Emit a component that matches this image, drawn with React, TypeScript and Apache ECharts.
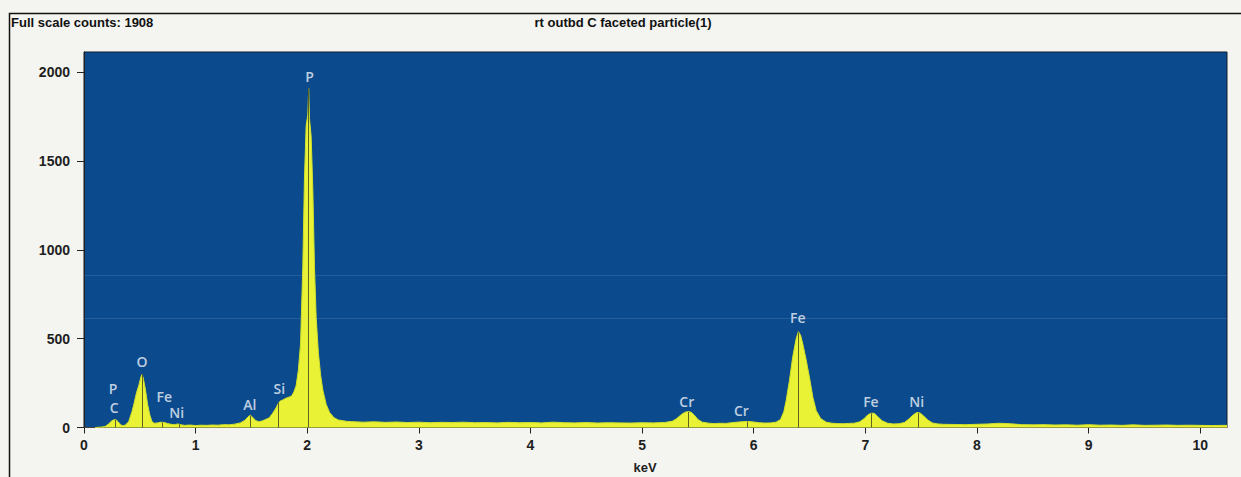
import { useEffect, useRef } from "react";
import * as echarts from "echarts";

// Spectrum: energy (keV) and counts
const energy = [
  0.10, 0.15, 0.19, 0.22, 0.25, 0.27, 0.29, 0.31, 0.33, 0.35, 0.37, 0.40, 0.43, 0.45, 0.47, 0.49, 0.51, 0.52, 0.53, 0.55,
  0.57, 0.59, 0.61, 0.63, 0.66, 0.69, 0.72, 0.75, 0.78, 0.81, 0.84, 0.87, 0.90, 0.95, 1.00, 1.05, 1.10, 1.15, 1.20, 1.25,
  1.30, 1.35, 1.40, 1.44, 1.47, 1.49, 1.51, 1.54, 1.57, 1.60, 1.63, 1.66, 1.69, 1.72, 1.74, 1.76, 1.78, 1.80, 1.82, 1.84,
  1.86, 1.88, 1.90, 1.92, 1.94, 1.96, 1.975, 1.99, 2.005, 2.013, 2.02, 2.035, 2.05, 2.065, 2.08, 2.10, 2.12, 2.14, 2.17, 2.20,
  2.24, 2.28, 2.32, 2.36, 2.40, 2.50, 2.60, 2.70, 2.80, 2.90, 3.00, 3.10, 3.20, 3.30, 3.40, 3.50, 3.60, 3.70, 3.80, 3.90,
  4.00, 4.10, 4.20, 4.30, 4.40, 4.50, 4.60, 4.70, 4.80, 4.90, 5.00, 5.10, 5.20, 5.27, 5.31, 5.35, 5.38, 5.41, 5.44, 5.47,
  5.50, 5.54, 5.60, 5.65, 5.70, 5.75, 5.80, 5.85, 5.90, 5.95, 6.00, 6.05, 6.10, 6.15, 6.20, 6.24, 6.27, 6.29, 6.32, 6.35,
  6.38, 6.40, 6.42, 6.44, 6.47, 6.50, 6.53, 6.56, 6.60, 6.65, 6.70, 6.75, 6.80, 6.85, 6.90, 6.95, 6.99, 7.02, 7.05, 7.08,
  7.11, 7.15, 7.20, 7.25, 7.30, 7.35, 7.39, 7.43, 7.46, 7.49, 7.52, 7.56, 7.60, 7.65, 7.70, 7.80, 7.90, 8.00, 8.10, 8.20,
  8.30, 8.40, 8.50, 8.60, 8.70, 8.80, 8.90, 9.00, 9.10, 9.20, 9.30, 9.40, 9.50, 9.60, 9.70, 9.80, 9.90, 10.00, 10.10, 10.20,
  10.24,
];
const counts = [
  0, 2, 6, 20, 38, 44, 42, 30, 14, 10, 14, 32, 90, 140, 195, 235, 285, 298, 280, 215,
  130, 70, 32, 24, 26, 30, 28, 22, 18, 16, 20, 15, 12, 14, 11, 13, 12, 14, 13, 16,
  15, 19, 26, 40, 60, 70, 58, 38, 33, 38, 46, 55, 80, 110, 135, 150, 155, 162, 168, 172,
  178, 200, 235, 320, 470, 900, 1400, 1700, 1760, 1908, 1740, 1640, 1340, 900, 620, 420, 295, 210, 130, 85,
  55, 42, 38, 34, 33, 30, 32, 29, 31, 28, 30, 27, 29, 28, 30, 27, 28, 26, 29, 27,
  28, 26, 30, 27, 26, 28, 25, 27, 26, 25, 27, 26, 28, 35, 50, 72, 85, 90, 86, 68,
  45, 30, 24, 22, 24, 23, 27, 30, 33, 34, 31, 27, 25, 26, 30, 45, 90, 150, 265, 400,
  500, 540, 520, 470, 380, 280, 170, 95, 50, 30, 24, 22, 21, 23, 24, 32, 50, 70, 80, 80,
  62, 38, 24, 20, 21, 28, 48, 72, 84, 82, 66, 42, 26, 20, 18, 17, 16, 18, 20, 24,
  21, 16, 15, 16, 14, 15, 13, 16, 13, 14, 12, 15, 12, 13, 14, 12, 13, 12, 11, 12,
  12,
];

// Identified peak markers (element line energy, marker top in counts)
const peakEnergy = [0.277, 0.525, 0.705, 0.851, 1.487, 1.74, 2.013, 5.414, 5.946, 6.403, 7.057, 7.477];
const peakHeight = [42, 300, 28, 18, 68, 140, 1908, 88, 33, 535, 80, 82];

// Element labels (name, energy, count level of label)
const labelNames = ["P", "C", "O", "Fe", "Ni", "Al", "Si", "P", "Cr", "Cr", "Fe", "Fe", "Ni"];
const labelEnergy = [0.26, 0.27, 0.52, 0.72, 0.83, 1.485, 1.75, 2.02, 5.4, 5.89, 6.395, 7.05, 7.46];
const labelCounts = [222, 110, 369, 177, 82, 132, 222, 1975, 149, 93, 622, 149, 149];

const xTicks = [0, 1, 2, 3, 4, 5, 6, 7, 8, 9, 10];
const yTicks = [0, 500, 1000, 1500, 2000];
const scanLines = [617, 860];

const headerLeft = "Full scale counts: 1908";
const headerTitle = "rt outbd C faceted particle(1)";
const xName = "keV";

export default function App() {
  const ref = useRef<HTMLDivElement>(null);
  useEffect(() => {
    if (!ref.current) return;
    const chart = echarts.init(ref.current, null, { renderer: "svg" });
    const axisFont = {
      fontFamily: "Liberation Sans, Arial, sans-serif",
      fontWeight: "bold" as const,
      fontSize: 14,
      color: "#1e1e1e",
    };
    chart.setOption({
      animation: false,
      backgroundColor: "#f4f4f0",
      grid: {
        left: 84,
        right: 14,
        top: 52,
        bottom: 49.5,
        show: true,
        backgroundColor: "#0b4a8d",
        borderColor: "#0d1c2c",
        borderWidth: 1,
      },
      xAxis: {
        type: "value",
        min: 0,
        max: 10.24,
        interval: 1,
        axisLine: { show: true, onZero: false, lineStyle: { color: "#444", width: 1 } },
        axisTick: { show: true, customValues: xTicks, length: 6, lineStyle: { color: "#222" } },
        axisLabel: { customValues: xTicks, margin: 10, formatter: (v: number) => String(v), ...axisFont },
        splitLine: { show: false },
      },
      yAxis: {
        type: "value",
        min: 0,
        max: 2115,
        interval: 500,
        axisLine: { show: true, lineStyle: { color: "#222", width: 1 } },
        axisTick: { show: true, customValues: yTicks, length: 7, lineStyle: { color: "#222" } },
        axisLabel: { customValues: yTicks, margin: 14, formatter: (v: number) => String(v), ...axisFont },
        splitLine: { show: false },
      },
      graphic: [
        {
          type: "rect",
          shape: { x: 9.5, y: 13.5, width: 1250, height: 480 },
          style: { fill: "none", stroke: "#111", lineWidth: 1.5 },
          silent: true,
        },
        {
          type: "text",
          x: 11,
          y: 16,
          style: {
            text: headerLeft,
            font: "bold 13px 'Liberation Sans', Arial, sans-serif",
            fill: "#111",
          },
        },
        {
          type: "text",
          x: 623,
          y: 16,
          style: {
            text: headerTitle,
            font: "bold 13px 'Liberation Sans', Arial, sans-serif",
            fill: "#111",
            textAlign: "center",
          },
        },
        {
          type: "text",
          x: 645,
          y: 461,
          style: {
            text: xName,
            font: "bold 13px 'Liberation Sans', Arial, sans-serif",
            fill: "#1e1e1e",
            textAlign: "center",
          },
        },
      ],
      series: [
        {
          type: "line",
          data: energy.map((e, i) => [e, counts[i]]),
          showSymbol: false,
          symbol: "none",
          lineStyle: { color: "#d2e02a", width: 1 },
          areaStyle: { color: "#e9f234", opacity: 1 },
          z: 2,
          silent: true,
          markLine: {
            silent: true,
            symbol: "none",
            label: { show: false },
            lineStyle: { color: "rgba(200,215,235,0.14)", width: 1, type: "solid" },
            data: scanLines.map((v) => ({ yAxis: v })),
          },
        },
        {
          type: "line",
          data: [],
          z: 3,
          markLine: {
            silent: true,
            symbol: "none",
            label: { show: false },
            lineStyle: { color: "#5f6420", width: 1, type: "solid" },
            data: peakEnergy.map((e, i) => [
              { coord: [e, 0] },
              { coord: [e, peakHeight[i]] },
            ]),
          },
        },
        {
          type: "scatter",
          symbolSize: 0,
          z: 4,
          silent: true,
          data: labelNames.map((n, i) => ({ name: n, value: [labelEnergy[i], labelCounts[i]] })),
          label: {
            show: true,
            position: "inside",
            formatter: (p: any) => p.name,
            fontFamily: "Open Sans, DejaVu Sans, sans-serif",
            fontWeight: 600,
            fontSize: 14,
            color: "#eef3f8",
          },
        },
      ],
    });
    return () => chart.dispose();
  }, []);
  return (
    <div
      ref={ref}
      style={{ position: "fixed", left: 0, top: 0, width: 1241, height: 477 }}
    />
  );
}
